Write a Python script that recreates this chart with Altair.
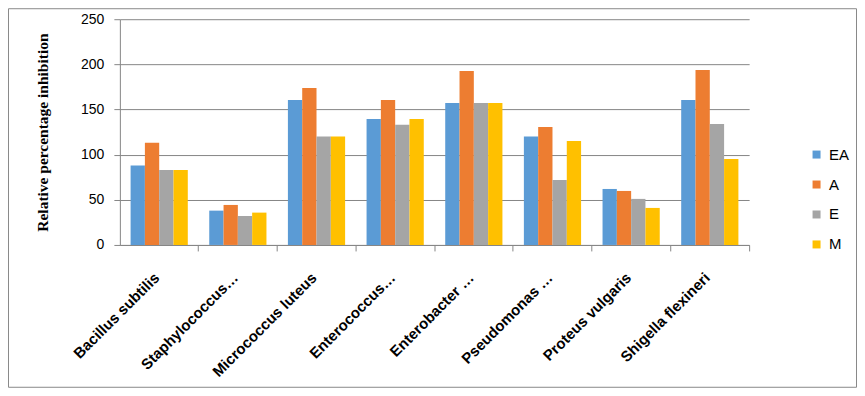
import altair as alt
import pandas as pd

organisms = ["Bacillus subtilis", "Staphylococcus…", "Micrococcus luteus", "Enterococcus…",
             "Enterobacter …", "Pseudomonas …", "Proteus vulgaris", "Shigella flexineri"]
series = ["EA", "A", "E", "M"]
EA = [88, 38, 160.6, 139.5, 157.3, 120, 62, 160.6]
A = [113.3, 44.3, 173.9, 160.6, 192.7, 130.7, 59.8, 193.8]
E = [83, 32, 120, 133, 157.3, 72, 51, 134]
M = [83, 35.8, 120, 139.5, 157.3, 115.2, 41, 95.2]
colors = ["#5B9BD5", "#ED7D31", "#A5A5A5", "#FFC000"]
y_ticks = [0, 50, 100, 150, 200, 250]

rows = []
for s, vals in zip(series, [EA, A, E, M]):
    for o, v in zip(organisms, vals):
        rows.append({"organism": o, "series": s, "value": v})
df = pd.DataFrame(rows)

W, H = 630, 226
PL, PT, PR, PB = 112, 11, 108, 143
gray = "#868686"

bars = alt.Chart(df).mark_bar().encode(
    x=alt.X("organism:N", sort=organisms, title=None,
            scale=alt.Scale(paddingInner=0, paddingOuter=0),
            axis=alt.Axis(labelAngle=-45, labelFont="Liberation Sans", labelFontWeight="bold",
                          labelFontSize=15, labelColor="black", labelPadding=19,
                          bandPosition=1, labelOffset=-W / 16 + 32,
                          domainColor=gray, tickColor=gray, tickSize=6, labelLimit=300)),
    xOffset=alt.XOffset("series:N", sort=series,
                        scale=alt.Scale(paddingOuter=0.75, paddingInner=0)),
    y=alt.Y("value:Q", scale=alt.Scale(domain=[0, 250], nice=False),
            title="Relative percentage inhibition",
            axis=alt.Axis(values=y_ticks, labelFont="Liberation Sans", labelFontSize=14,
                          labelColor="black", labelPadding=10, tickSize=6, tickColor=gray,
                          domainColor=gray, gridColor=gray, grid=True,
                          titleFont="Liberation Serif", titleFontSize=15.5, titleFontWeight="bold",
                          titleColor="black", titlePadding=30)),
    color=alt.Color("series:N", sort=series, scale=alt.Scale(domain=series, range=colors),
                    legend=alt.Legend(title=None, orient="none", legendX=690, legendY=128,
                                      symbolType="square", symbolSize=64, symbolStrokeWidth=0,
                                      labelFont="Liberation Sans", labelFontSize=15,
                                      labelColor="black", labelOffset=5, rowPadding=14,
                                      padding=0)),
)

border = alt.Chart(alt.Data(values=[{"k": 1}])).mark_rect(
    fill=None, stroke="#898989", strokeWidth=1
).encode(
    x=alt.value(-PL + 0.5), x2=alt.value(W + PR - 0.5),
    y=alt.value(-PT + 0.5), y2=alt.value(H + PB - 0.5),
)

chart = alt.layer(border, bars).properties(
    width=W, height=H,
    autosize=alt.AutoSizeParams(type="none"),
    padding={"left": PL, "top": PT, "right": PR, "bottom": PB},
).configure_view(stroke=None).configure_axis(gridWidth=1)

chart.save("out.html", embed_options={"renderer": "svg", "actions": False})
